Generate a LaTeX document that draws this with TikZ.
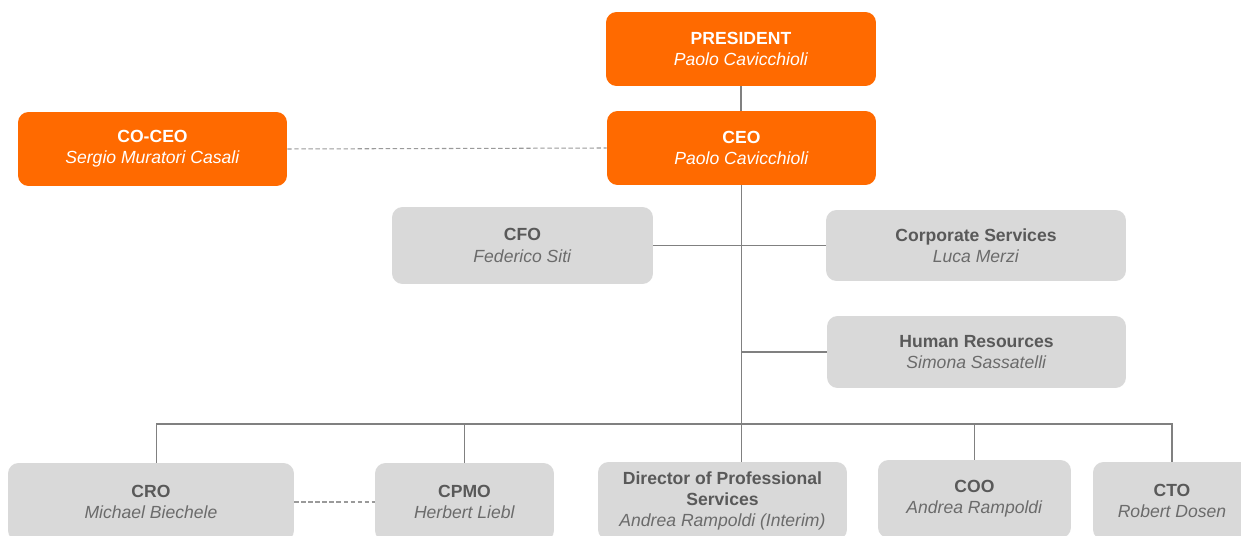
\documentclass[tikz,border=0pt]{standalone}
\usepackage{fontspec}
\setmainfont{Liberation Sans}
\usepackage{tikz}
\usetikzlibrary{positioning}
\definecolor{orgorange}{HTML}{FF6A00}
\definecolor{boxgray}{HTML}{D9D9D9}
\definecolor{titlegray}{HTML}{595959}
\definecolor{namegray}{HTML}{6B6B6B}
\definecolor{linegray}{HTML}{808080}
\definecolor{dashgray}{HTML}{9A9A9A}
\tikzset{
    board/.style={
           rectangle,
           rounded corners=6pt,
           fill=orgorange, draw=none,
           text=white,
           minimum height=1.48cm,
           inner sep=2pt,
           align=center,
           font=\fontsize{10}{12}\selectfont,
           },
    unit/.style={
           rectangle,
           rounded corners=6pt,
           fill=boxgray, draw=none,
           text=titlegray,
           inner sep=2pt,
           align=center,
           font=\fontsize{10}{12}\selectfont,
           },
    link/.style={draw=linegray, line width=0.6pt},
    dotlink/.style={draw=dashgray, line width=0.6pt, dash pattern=on 2.5pt off 1.5pt},
}
\newcommand{\role}[2]{\textbf{#1}\\\textit{#2}}
\newcommand{\grole}[2]{\textbf{#1}\\\textcolor{namegray}{\textit{#2}}}

\begin{document}
\begin{tikzpicture}[x=0.02cm, y=-0.02cm]
  \clip (0,0) rectangle (1241,536);

  % management
  \node[board, minimum width=5.4cm]   (pres)  at (741,49)    {\role{PRESIDENT}{Paolo Cavicchioli}};
  \node[board, minimum width=5.38cm]  (ceo)   at (741.5,148) {\role{CEO}{Paolo Cavicchioli}};
  \node[board, minimum width=5.38cm]  (coceo) at (152.5,149) {\role{CO-CEO}{Sergio Muratori Casali}};

  % staff
  \node[unit, minimum width=5.22cm, minimum height=1.54cm] (cfo)  at (522.5,245.5) {\grole{CFO}{Federico Siti}};
  \node[unit, minimum width=6cm, minimum height=1.42cm]    (corp) at (976,245.5)   {\grole{Corporate Services}{Luca Merzi}};
  \node[unit, minimum width=5.98cm, minimum height=1.44cm] (hr)   at (976.5,352)   {\grole{Human Resources}{Simona Sassatelli}};

  % line units
  \node[unit, minimum width=5.72cm, minimum height=1.56cm] (cro)  at (151,502)   {\grole{CRO}{Michael Biechele}};
  \node[unit, minimum width=3.58cm, minimum height=1.56cm] (cpmo) at (464.5,502) {\grole{CPMO}{Herbert Liebl}};
  \node[unit, minimum width=4.98cm, minimum height=1.56cm] (dps)  at (722.5,501) {\textbf{Director of Professional}\\\textbf{Services}\\\textcolor{namegray}{\textit{Andrea Rampoldi (Interim)}}};
  \node[unit, minimum width=3.86cm, minimum height=1.56cm] (coo)  at (974.5,499) {\grole{COO}{Andrea Rampoldi}};
  \node[unit, minimum width=3.16cm, minimum height=1.56cm] (cto)  at (1172,501)  {\grole{CTO}{Robert Dosen}};

  \coordinate (bus) at (0,424);

  \draw[link] (pres.south) -- (pres.south |- ceo.north);
  \draw[link] (ceo.south) -- (ceo.south |- dps.north);
  \draw[link] (cfo.east) -- (corp.west);
  \draw[link] (ceo.south |- hr.west) -- (hr.west);
  \draw[link] ([xshift=3pt]cro.north) |- (bus -| cto.north) -- (cto.north);
  \draw[link] (cpmo.north) -- (cpmo.north |- bus);
  \draw[link] (coo.north) -- (coo.north |- bus);

  \draw[dotlink] (coceo.east) -- (ceo.west);
  \draw[dotlink] (cro.east) -- (cpmo.west);

\end{tikzpicture}
\end{document}
